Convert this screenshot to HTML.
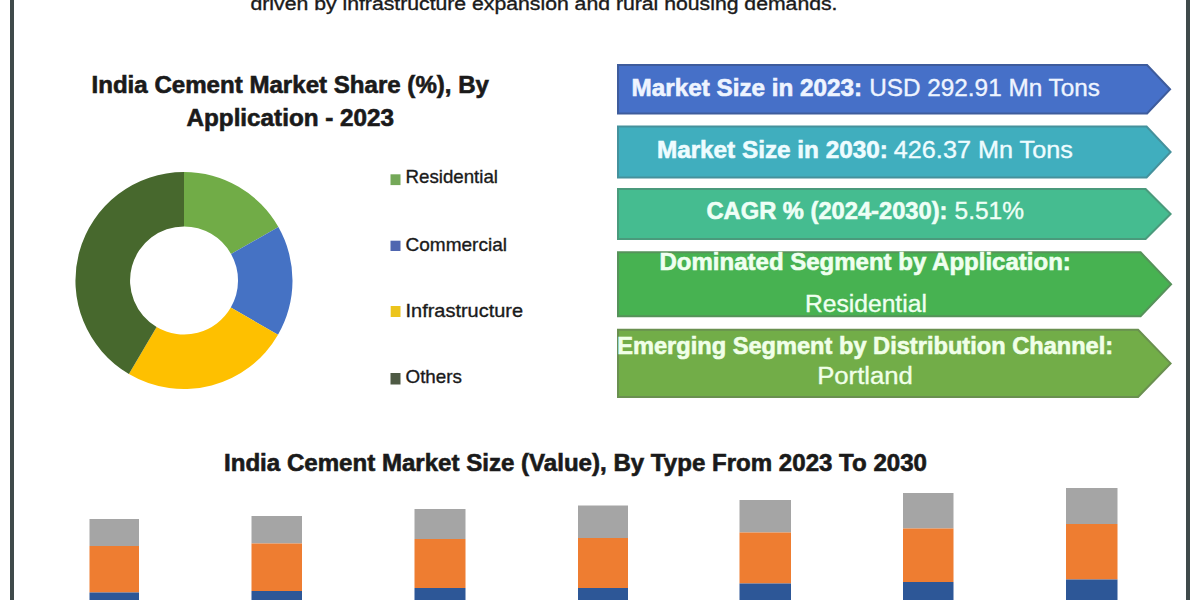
<!DOCTYPE html>
<html><head><meta charset="utf-8">
<style>
html,body{margin:0;padding:0;background:#fff;width:1200px;height:600px;overflow:hidden}
svg{display:block}
text{font-family:"Liberation Sans",sans-serif}
.b{font-weight:bold;stroke-width:0.6px}
.r{stroke-width:0.35px}
text{paint-order:stroke}
</style></head><body>
<svg width="1200" height="600" viewBox="0 0 1200 600">
<rect x="0" y="0" width="1200" height="600" fill="#fff"/>
<!-- borders -->
<rect x="10" y="0" width="4" height="600" fill="#3f4a4b"/>
<rect x="1186" y="0" width="4" height="600" fill="#3f4a4b"/>

<!-- top text -->
<text x="250.5" y="10" font-size="18" fill="#1a1a1a" stroke="#1a1a1a" class="r" textLength="587" lengthAdjust="spacingAndGlyphs">driven by infrastructure expansion and rural housing demands.</text>

<!-- pie title -->
<text class="b" x="91.5" y="92.5" font-size="23" stroke="#1a1a1a" fill="#1a1a1a" textLength="397.5" lengthAdjust="spacingAndGlyphs">India Cement Market Share (%), By</text>
<text class="b" x="186.5" y="126.3" font-size="23" stroke="#1a1a1a" fill="#1a1a1a" textLength="207.5" lengthAdjust="spacingAndGlyphs">Application - 2023</text>

<!-- donut -->
<path d="M184.0 172.0A108.5 108.5 0 0 1 278.4 227.1L231.0 253.9A54 54 0 0 0 184.0 226.5Z" fill="#71ac47"/>
<path d="M278.4 227.1A108.5 108.5 0 0 1 278.0 334.8L230.8 307.5A54 54 0 0 0 231.0 253.9Z" fill="#4572c4"/>
<path d="M278.0 334.8A108.5 108.5 0 0 1 128.9 374.0L156.6 327.0A54 54 0 0 0 230.8 307.5Z" fill="#fec000"/>
<path d="M128.9 374.0A108.5 108.5 0 0 1 184.0 172.0L184.0 226.5A54 54 0 0 0 156.6 327.0Z" fill="#47682d"/>

<!-- legend -->
<rect x="390.5" y="174.3" width="10" height="10.8" fill="#74a858"/>
<text x="405.5" y="183.3" font-size="19" fill="#1a1a1a" stroke="#1a1a1a" class="r" textLength="92.5" lengthAdjust="spacingAndGlyphs">Residential</text>
<rect x="390.5" y="240.7" width="10" height="10.3" fill="#4f66b0"/>
<text x="405.5" y="250.8" font-size="19" fill="#1a1a1a" stroke="#1a1a1a" class="r" textLength="101.5" lengthAdjust="spacingAndGlyphs">Commercial</text>
<rect x="390.7" y="306" width="9.8" height="11" fill="#ecc41c"/>
<text x="405.5" y="317" font-size="19" fill="#1a1a1a" stroke="#1a1a1a" class="r" textLength="117.5" lengthAdjust="spacingAndGlyphs">Infrastructure</text>
<rect x="390.5" y="373" width="10" height="11.5" fill="#4e5a44"/>
<text x="405.5" y="383.3" font-size="19" fill="#1a1a1a" stroke="#1a1a1a" class="r" textLength="56.5" lengthAdjust="spacingAndGlyphs">Others</text>

<!-- arrows -->
<polygon points="618.0,65.0 1147.09,65.0 1170.09,89.25 1147.09,113.5 618.0,113.5" fill="#4670c8" stroke="#3e5c9c" stroke-width="2" stroke-linejoin="miter"/>
<polygon points="618.0,126.5 1146.59,126.5 1170.59,152.0 1146.59,177.5 618.0,177.5" fill="#40aebe" stroke="#45919c" stroke-width="2" stroke-linejoin="miter"/>
<polygon points="618.0,189.0 1145.59,189.0 1170.59,214.0 1145.59,239.0 618.0,239.0" fill="#45bc90" stroke="#4a9a7c" stroke-width="2" stroke-linejoin="miter"/>
<polygon points="618.0,252.3 1140.59,252.3 1171.09,284.3 1140.59,316.3 618.0,316.3" fill="#47b251" stroke="#56925a" stroke-width="2" stroke-linejoin="miter"/>
<polygon points="618.0,329.8 1138.09,329.8 1170.59,363.4 1138.09,397.0 618.0,397.0" fill="#72ad48" stroke="#6a9050" stroke-width="2" stroke-linejoin="miter"/>

<text class="b" x="631.5" y="95.7" font-size="23.5" stroke="#eef4ff" fill="#eef4ff" textLength="230.7" lengthAdjust="spacingAndGlyphs">Market Size in 2023:</text>
<text class="r" stroke="#eef4ff" x="869.2" y="95.7" font-size="23.5" fill="#eef4ff" textLength="230.7" lengthAdjust="spacingAndGlyphs">USD 292.91 Mn Tons</text>
<text class="b" x="656.9" y="157.7" font-size="23.5" stroke="#eefcff" fill="#eefcff" textLength="230.9" lengthAdjust="spacingAndGlyphs">Market Size in 2030:</text>
<text class="r" stroke="#eefcff" x="893.8" y="157.7" font-size="23.5" fill="#eefcff" textLength="179.0" lengthAdjust="spacingAndGlyphs">426.37 Mn Tons</text>
<text class="b" x="706.5" y="219.3" font-size="23.5" stroke="#eefff6" fill="#eefff6" textLength="241.0" lengthAdjust="spacingAndGlyphs">CAGR % (2024-2030):</text>
<text class="r" stroke="#eefff6" x="954.5" y="219.3" font-size="23.5" fill="#eefff6" textLength="69.5" lengthAdjust="spacingAndGlyphs">5.51%</text>
<text class="b" x="659.5" y="269.6" font-size="23.5" stroke="#effff0" fill="#effff0" textLength="411.3" lengthAdjust="spacingAndGlyphs">Dominated Segment by Application:</text>
<text class="r" stroke="#effff0" x="804.9" y="312.4" font-size="23.5" fill="#effff0" textLength="122.0" lengthAdjust="spacingAndGlyphs">Residential</text>
<text class="b" x="617.2" y="353.9" font-size="23.5" stroke="#f0ffe8" fill="#f0ffe8" textLength="496.0" lengthAdjust="spacingAndGlyphs">Emerging Segment by Distribution Channel:</text>
<text class="r" stroke="#f0ffe8" x="817.2" y="384.3" font-size="23.5" fill="#f0ffe8" textLength="95.7" lengthAdjust="spacingAndGlyphs">Portland</text>

<!-- bar chart title -->
<text class="b" x="224" y="471" font-size="23" stroke="#1a1a1a" fill="#1a1a1a" textLength="703" lengthAdjust="spacingAndGlyphs">India Cement Market Size (Value), By Type From 2023 To 2030</text>

<!-- bars -->
<g>
<rect x="89.5" y="519" width="49.5" height="27" fill="#a5a5a5"/><rect x="89.5" y="546" width="49.5" height="46.5" fill="#ee7d31"/><rect x="89.5" y="592.5" width="49.5" height="10" fill="#2d5797"/>
<rect x="251.5" y="516" width="50.5" height="27.5" fill="#a5a5a5"/><rect x="251.5" y="543.5" width="50.5" height="47.5" fill="#ee7d31"/><rect x="251.5" y="591" width="50.5" height="10" fill="#2d5797"/>
<rect x="414.5" y="509" width="51" height="30" fill="#a5a5a5"/><rect x="414.5" y="539" width="51" height="49" fill="#ee7d31"/><rect x="414.5" y="588" width="51" height="14" fill="#2d5797"/>
<rect x="578" y="505.5" width="50" height="32.5" fill="#a5a5a5"/><rect x="578" y="538" width="50" height="50" fill="#ee7d31"/><rect x="578" y="588" width="50" height="14" fill="#2d5797"/>
<rect x="739.5" y="500" width="51.5" height="32.5" fill="#a5a5a5"/><rect x="739.5" y="532.5" width="51.5" height="51" fill="#ee7d31"/><rect x="739.5" y="583.5" width="51.5" height="18" fill="#2d5797"/>
<rect x="903" y="493" width="50.5" height="35.5" fill="#a5a5a5"/><rect x="903" y="528.5" width="50.5" height="53.5" fill="#ee7d31"/><rect x="903" y="582" width="50.5" height="20" fill="#2d5797"/>
<rect x="1066" y="488" width="51.5" height="36" fill="#a5a5a5"/><rect x="1066" y="524" width="51.5" height="55.5" fill="#ee7d31"/><rect x="1066" y="579.5" width="51.5" height="22" fill="#2d5797"/>
</g>
</svg>
</body></html>
